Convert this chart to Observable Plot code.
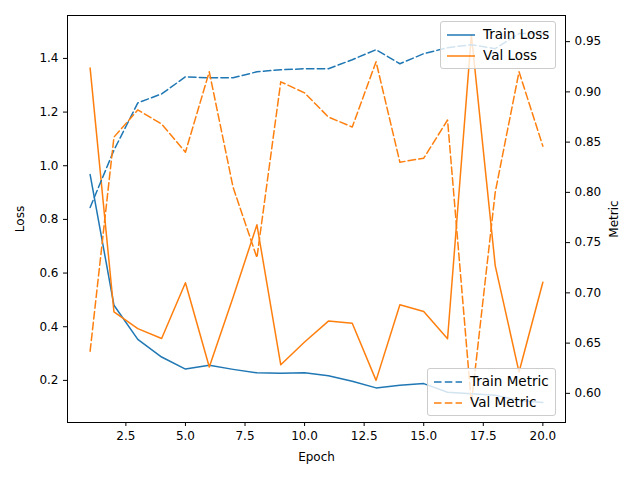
<!DOCTYPE html>
<html><head><meta charset="utf-8">
<script src="https://cdn.jsdelivr.net/npm/d3@7"></script>
<script src="https://cdn.jsdelivr.net/npm/@observablehq/plot@0.6"></script>
<style>
body{margin:0;background:#fff;font-family:"DejaVu Sans",sans-serif}
#wrap{position:relative;width:640px;height:480px}
.leg{position:absolute;background:rgba(255,255,255,0.8);border:1px solid #ccc;border-radius:3px;font-size:13.5px;padding:2px 6px;line-height:21px}
.leg div{display:flex;align-items:center;gap:8px}
</style></head><body>
<div id="wrap"></div>
<script>
const epochs = d3.range(1, 21)
const trainLoss = [0.967,0.48,0.353,0.287,0.242,0.256,0.241,0.228,0.227,0.228,0.217,0.197,0.172,0.182,0.188,0.156,0.15,0.145,0.125,0.118]
const valLoss = [1.364,0.455,0.393,0.356,0.564,0.25,0.51,0.78,0.258,0.343,0.421,0.413,0.2,0.482,0.457,0.355,1.488,0.628,0.231,0.566]
const trainMetric = [0.785,0.842,0.889,0.898,0.915,0.914,0.914,0.92,0.922,0.923,0.923,0.932,0.942,0.928,0.938,0.944,0.947,0.943,0.958,0.958]
const valMetric = [0.642,0.855,0.882,0.868,0.84,0.92,0.805,0.735,0.91,0.899,0.875,0.865,0.93,0.83,0.834,0.872,0.59,0.80,0.92,0.846]
const metricTicks = [0.60,0.65,0.70,0.75,0.80,0.85,0.90,0.95]

// metric -> loss scale (twin axis)
const m0 = 0.571, m1 = 0.976, l0 = 0.043, l1 = 1.56
const toLoss = m => l0 + (m - m0) * (l1 - l0) / (m1 - m0)
const toMetric = l => m0 + (l - l0) * (m1 - m0) / (l1 - l0)

const rows = (ys, f = d => d) => epochs.map((e, i) => ({x: e, y: f(ys[i])}))
const blue = "#1f77b4", orange = "#ff7f0e"
const dash = "7.5,3.3"

const chart = Plot.plot({
  width: 640, height: 480,
  marginLeft: 67, marginRight: 75, marginTop: 15, marginBottom: 58,
  style: {fontFamily: "DejaVu Sans", fontSize: "12px", color: "#000"},
  x: {domain: [0.05, 20.95]},
  y: {domain: [l0, l1]},
  marks: [
    Plot.frame({stroke: "#000"}),
    Plot.axisX({ticks: [2.5,5,7.5,10,12.5,15,17.5,20], tickFormat: d3.format(".1f"), label: "Epoch", labelAnchor: "center", labelArrow: "none", labelOffset: 38, tickSize: 4}),
    Plot.axisY({ticks: [0.2,0.4,0.6,0.8,1.0,1.2,1.4], tickFormat: d3.format(".1f"), label: "Loss", labelAnchor: "center", labelArrow: "none", labelOffset: 52, tickSize: 4}),
    Plot.axisY(metricTicks.map(toLoss), {anchor: "right", tickFormat: d => d3.format(".2f")(toMetric(d)), label: "Metric", labelAnchor: "center", labelArrow: "none", labelOffset: 52, tickSize: 4}),
    Plot.line(rows(trainLoss), {x: "x", y: "y", stroke: blue, strokeWidth: 1.5}),
    Plot.line(rows(valLoss), {x: "x", y: "y", stroke: orange, strokeWidth: 1.5}),
    Plot.line(rows(trainMetric, toLoss), {x: "x", y: "y", stroke: blue, strokeWidth: 1.5, strokeDasharray: dash}),
    Plot.line(rows(valMetric, toLoss), {x: "x", y: "y", stroke: orange, strokeWidth: 1.5, strokeDasharray: dash})
  ]
})
const wrap = d3.select("#wrap")
wrap.append(() => chart)

const sw = (c, d) => `<svg width="28" height="6"><line x1="0" y1="3" x2="28" y2="3" stroke="${c}" stroke-width="1.5" ${d ? `stroke-dasharray="${dash}"` : ''}/></svg>`
wrap.append("div").attr("class", "leg").style("left", "440px").style("top", "21px")
  .html(`<div>${sw(blue)}Train Loss</div><div>${sw(orange)}Val Loss</div>`)
wrap.append("div").attr("class", "leg").style("left", "427px").style("top", "368px")
  .html(`<div>${sw(blue, 1)}Train Metric</div><div>${sw(orange, 1)}Val Metric</div>`)
</script>
</body></html>
